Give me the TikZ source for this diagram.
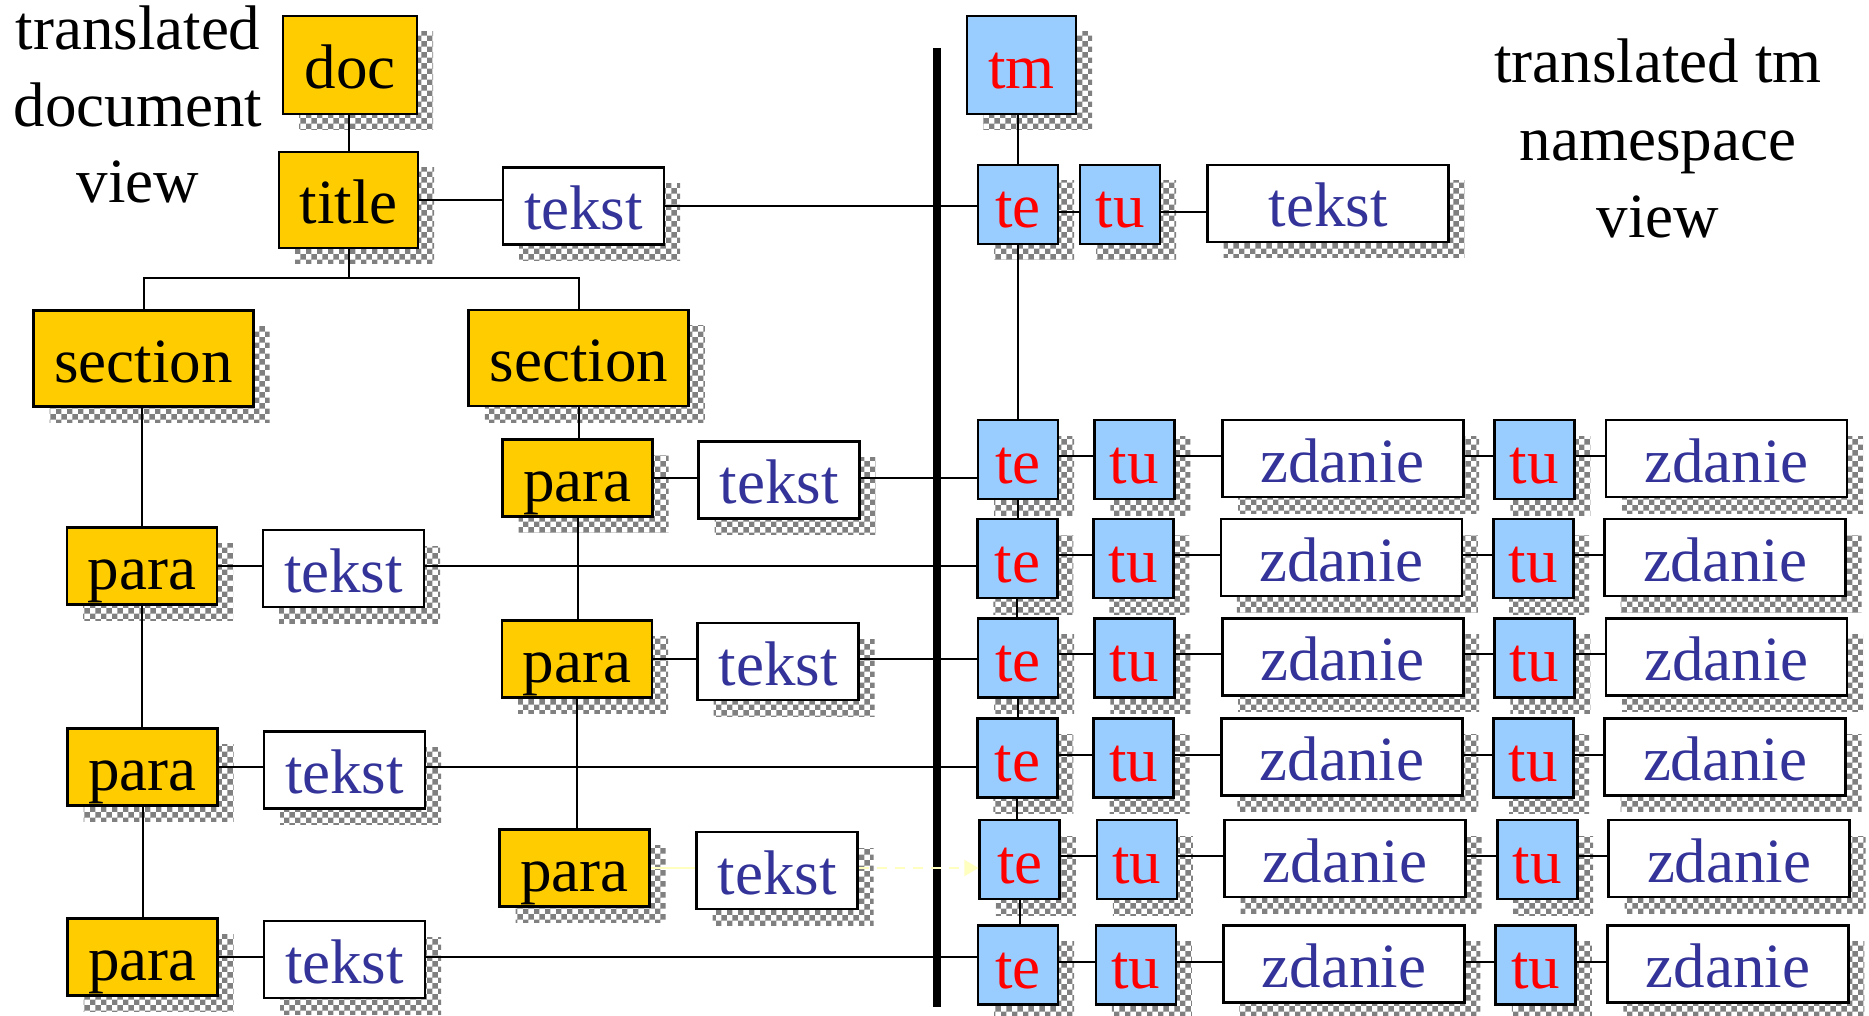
\documentclass[tikz,border=0pt]{standalone}
\usepackage{fontspec}
\setmainfont{Liberation Serif}
\usetikzlibrary{shadows,patterns,arrows.meta,calc}
\definecolor{boxyel}{HTML}{FFCC00}
\definecolor{boxblu}{HTML}{99CCFF}
\definecolor{txtblu}{HTML}{333399}
\definecolor{txtred}{HTML}{FF0000}
\definecolor{pale}{HTML}{FFFFC0}
\begin{document}
\begin{tikzpicture}[x=1pt,y=-1pt,
  bx/.style={draw=black, line width=2.8pt, inner sep=0pt, text height=47pt, text depth=0pt,
    font=\fontsize{63}{76}\selectfont,
    drop shadow={shadow xshift=16pt, shadow yshift=-16pt, opacity=1, fill=none, pattern=checkerboard, pattern color=black!50}},
  yel/.style={bx, fill=boxyel, text=black},
  blu/.style={bx, fill=boxblu, text=txtred, minimum width=80pt, minimum height=79pt},
  wht/.style={bx, fill=white, text=txtblu},
  zd/.style={wht, minimum width=241pt, minimum height=77pt},
  para/.style={yel, minimum width=150pt, minimum height=77pt},
  tk/.style={wht, minimum width=161pt, minimum height=77pt},
  conn/.style={line width=2pt, draw=black},
  paleline/.style={line width=2pt, draw=pale},
  lbl/.style={align=center, inner sep=0pt, text=black}]

\useasboundingbox (0,0) rectangle (1869,1016);

% thick separator
\coordinate (barT) at (937,48);
\coordinate (barB) at (937,1007);
\draw[line width=8pt] (barT) -- (barB);

% labels
\node[lbl, anchor=north, font=\fontsize{63}{76.5}\selectfont] (lblL) at (138,6) {translated\\document\\view};
\node[lbl, anchor=north, font=\fontsize{63}{77.5}\selectfont] (lblR) at (1658,39) {translated tm\\namespace\\view};

% document tree
\node[yel, minimum width=134pt, minimum height=98pt] (doc) at (350,65) {doc};
\node[yel, minimum width=139pt, minimum height=96pt] (title) at (348.5,200) {title};
\node[tk] (tekstT) at (583.5,206) {tekst};
\node[yel, minimum width=220pt, minimum height=96pt] (secL) at (143.7,358.7) {section};
\node[yel, minimum width=220pt, minimum height=96pt] (secR) at (578.8,358) {section};

\node[para] (paraR1) at (577.5,478) {para};
\node[tk] (tekstR1) at (779,480) {tekst};
\node[para] (paraL1) at (142,566) {para};
\node[tk] (tekstL1) at (343.5,568.5) {tekst};
\node[para] (paraR2) at (577,659) {para};
\node[tk] (tekstR2) at (778,661.5) {tekst};
\node[para] (paraL2) at (142.5,767) {para};
\node[tk] (tekstL2) at (344.5,770) {tekst};
\node[para] (paraR3) at (574.5,868) {para};
\node[tk] (tekstR3) at (777,870.5) {tekst};
\node[para] (paraL3) at (142.5,957) {para};
\node[tk] (tekstL3) at (344.5,959.5) {tekst};

% tm tree
\node[blu, minimum width=109pt, minimum height=98pt] (tm) at (1021.5,65) {tm};
\node[blu] (te0) at (1018,204.5) {te};
\node[blu] (tu0) at (1120,204.5) {tu};
\node[wht, minimum width=241pt, minimum height=77pt] (tekstTR) at (1328,203.5) {tekst};

\foreach \i/\t/\a/\b/\c/\d/\e in {
  1/420/1018/1134.4/1342.7/1534.3/1726.5,
  2/519/1017.3/1133.3/1341.4/1533.2/1725.2,
  3/618.3/1018/1134.3/1342.7/1534.3/1726.5,
  4/718.7/1017.3/1133.5/1341.9/1533.2/1725.2,
  5/820/1019.8/1136.9/1345/1537.2/1729.2,
  6/925.7/1018/1135.9/1343.8/1535.8/1727.9}{
  \node[blu] (te\i) at (\a,\t+39.5) {te};
  \node[blu] (tu\i) at (\b,\t+39.5) {tu};
  \node[zd] (zd\i) at (\c,\t+38.5) {zdanie};
  \node[blu] (tv\i) at (\d,\t+39.5) {tu};
  \node[zd] (zv\i) at (\e,\t+38.5) {zdanie};
}

% connectors: document tree
\coordinate (brk) at (0,278);
\draw[conn] (title.north |- doc.south) -- (title.north);
\draw[conn] (title.south) -- (title.south |- brk);
\draw[conn] (secL.north) -- (secL.north |- brk) -- (secR.north |- brk) -- (secR.north);
\draw[conn] (title.east) -- (title.east -| tekstT.west);
\draw[conn] (tekstT.east) -- (tekstT.east -| te0.west);

\draw[conn] (paraL1.north |- secL.south) -- (paraL1.north);
\draw[conn] (paraL1.south) -- (paraL1.south |- paraL2.north);
\draw[conn] (paraL2.south) -- (paraL2.south |- paraL3.north);
\draw[conn] (secR.south) -- (secR.south |- paraR1.north);
\draw[conn] (paraR1.south) -- (paraR1.south |- paraR2.north);
\draw[conn] (paraR2.south) -- (paraR2.south |- paraR3.north);

\draw[conn] (paraR1.east) -- (paraR1.east -| tekstR1.west);
\draw[conn] (tekstR1.east |- paraR1.east) -- (te1.west |- paraR1.east);
\draw[conn] (paraL1.east) -- (paraL1.east -| tekstL1.west);
\draw[conn] (tekstL1.east |- paraL1.east) -- (te2.west |- paraL1.east);
\draw[conn] (paraR2.east) -- (paraR2.east -| tekstR2.west);
\draw[conn] (tekstR2.east |- paraR2.east) -- (te3.west |- paraR2.east);
\draw[conn] (paraL2.east) -- (paraL2.east -| tekstL2.west);
\draw[conn] (tekstL2.east |- paraL2.east) -- (te4.west |- paraL2.east);
\draw[paleline] (paraR3.east) -- (paraR3.east -| tekstR3.west);
\draw[paleline, dash pattern=on 10pt off 8pt, -{Triangle[length=14pt,width=16pt]}] (tekstR3.east |- paraR3.east) -- (te5.west |- paraR3.east);
\draw[conn] (paraL3.east) -- (paraL3.east -| tekstL3.west);
\draw[conn] (tekstL3.east |- paraL3.east) -- (te6.west |- paraL3.east);

% connectors: tm tree
\draw[conn] (te0.north |- tm.south) -- (te0.north);
\draw[conn] ([yshift=-8pt]te0.east) -- ([yshift=-8pt]te0.east -| tu0.west);
\draw[conn] ([yshift=-8pt]tu0.east) -- ([yshift=-8pt]tu0.east -| tekstTR.west);
\foreach \i/\j in {0/1,1/2,2/3,3/4,4/5,5/6}{
  \draw[conn] (te\i.south) -- (te\i.south |- te\j.north);
}
\foreach \i in {1,...,6}{
  \draw[conn] ([yshift=3.5pt]te\i.east) -- ([yshift=3.5pt]te\i.east -| tu\i.west);
  \draw[conn] ([yshift=3.5pt]tu\i.east) -- ([yshift=3.5pt]tu\i.east -| zd\i.west);
  \draw[conn] ([yshift=3.5pt]tu\i.east -| zd\i.east) -- ([yshift=3.5pt]tv\i.west);
  \draw[conn] ([yshift=3.5pt]tv\i.east) -- ([yshift=3.5pt]tv\i.east -| zv\i.west);
}
\end{tikzpicture}
\end{document}
